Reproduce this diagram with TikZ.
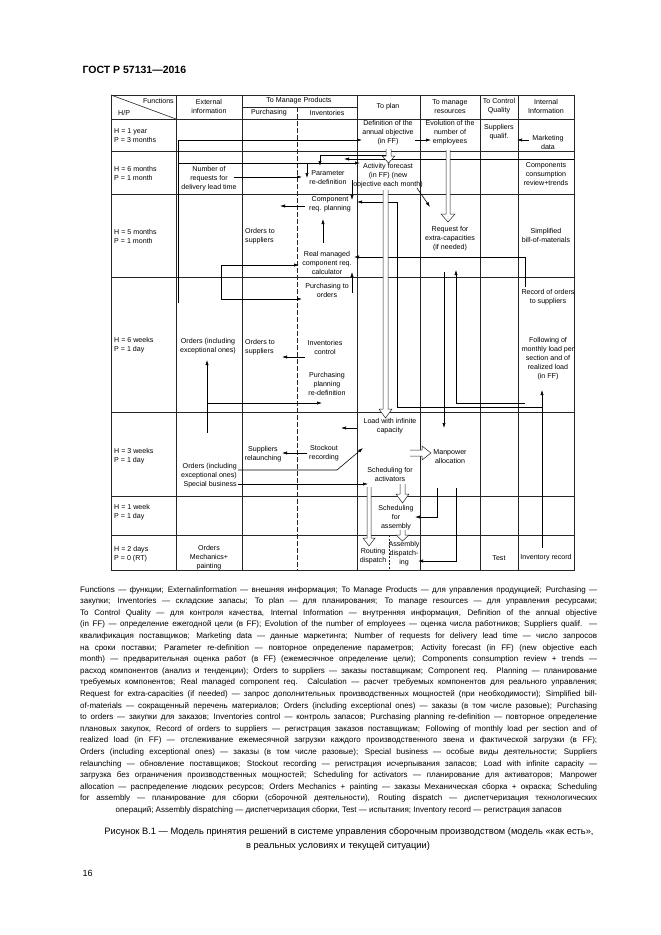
\documentclass[tikz,border=0pt]{standalone}
\usepackage{fontspec}
\setmainfont{Liberation Sans}
\usepackage{graphicx}
\usetikzlibrary{arrows.meta}
\newsavebox\capbox
\newcommand\capline[1]{\sbox\capbox{#1}\ifdim\wd\capbox<517pt\makebox[517pt][s]{#1}\else\pgfmathsetmacro\capratio{517/\the\wd\capbox}\scalebox{\capratio}[1]{#1}\fi}
% hollow arrow downward: x, y start, y head base, y tip, shaft half width, head half width
\newcommand\hdown[6]{\draw[hollow] (#1-#5,#2) -- (#1-#5,#3) -- (#1-#6,#3) -- (#1,#4) -- (#1+#6,#3) -- (#1+#5,#3) -- (#1+#5,#2);}
\begin{document}
\begin{tikzpicture}[x=1pt,y=-1pt,
  tbl/.style={line width=0.6pt, draw=black!85},
  txt/.style={font=\fontsize{7.1}{9}\selectfont, align=center, inner sep=0pt},
  conn/.style={line width=0.6pt, -{Latex[length=5pt,width=3.2pt]}},
  hollow/.style={line width=0.5pt, draw=black!85, fill=white},
]
\useasboundingbox (0,0) rectangle (661,935);
\fill[white] (0,0) rectangle (661,935);

\node[anchor=west, font=\bfseries\fontsize{10.5}{12}\selectfont] (gost) at (79,70) {ГОСТ Р 57131—2016};

% ---------- table ----------
\draw[tbl] (111,95) rectangle (574,570);
\foreach \x in {176,242,357,420,480,518} \draw[tbl] (\x,95) -- (\x,570);
\draw[tbl, dash pattern=on 5pt off 2pt] (297,107) -- (297,570);
\draw[tbl] (242,107) -- (357,107);
\foreach \y in {119,151.5,194,277,412,496,535} \draw[tbl] (111,\y) -- (574,\y);
\draw[tbl] (111,95) -- (176,119);
\draw[tbl, dash pattern=on 2pt off 1.5pt] (389,535) -- (389,570);

% header
\node[txt, anchor=east] (fn) at (174,101) {Functions};
\node[txt, anchor=west] (hp) at (118,113) {H/P};
\node[txt] (ext) at (209,106.5) {External\\information};
\node[txt] (tmp) at (299,101) {To Manage Products};
\node[txt] (pur) at (269,113) {Purchasing};
\node[txt] (inv) at (327,113) {Inventories};
\node[txt] (plan) at (388,107) {To plan};
\node[txt] (res) at (450,106.5) {To manage\\resources};
\node[txt] (qual) at (499,106.5) {To Control\\Quality};
\node[txt] (int) at (546,106.5) {Internal\\Information};

% H/P column
\node[txt, align=left, anchor=west] (h1) at (114,136) {H = 1 year\\P = 3 months};
\node[txt, align=left, anchor=west] (h2) at (114,173) {H = 6 months\\P = 1 month};
\node[txt, align=left, anchor=west] (h3) at (114,236) {H = 5 months\\P = 1 month};
\node[txt, align=left, anchor=west] (h4) at (114,345.5) {H = 6 weeks\\P = 1 day};
\node[txt, align=left, anchor=west] (h5) at (114,456.5) {H = 3 weeks\\P = 1 day};
\node[txt, align=left, anchor=west] (h6) at (114,512) {H = 1 week\\P = 1 day};
\node[txt, align=left, anchor=west] (h7) at (114,554) {H = 2 days\\P = 0 (RT)};

% row 1
\node[txt] (def) at (388,133) {Definition of the\\annual objective\\(in FF)};
\node[txt] (evo) at (450,133) {Evolution of the\\number of\\employees};
\node[txt] (sq) at (499,132.5) {Suppliers\\qualif.};
\node[txt] (mkt) at (548,142) {Marketing\\data};

% row 2
\node[txt] (nreq) at (209,179) {Number of\\requests for\\delivery lead time};
\node[txt] (param) at (328,178) {Parameter\\re-definition};
\node[txt] (act) at (388,176) {Activity forecast\\(in FF) (new\\objective each month)};
\node[txt] (comp) at (546,174.5) {Components\\consumption\\review+trends};

% row 3
\node[txt, align=left, anchor=west] (ots1) at (245,236) {Orders to\\suppliers};
\node[txt] (crp) at (330,204) {Component\\req. planning};
\node[txt] (rmc) at (327,263) {Real managed\\component req.\\calculator};
\node[txt] (rec) at (450,239) {Request for\\extra-capacities\\(if needed)};
\node[txt] (sbom) at (546,235) {Simplified\\bill-of-materials};

% row 4
\node[txt] (oie1) at (208,346.5) {Orders (including\\exceptional ones)};
\node[txt, align=left, anchor=west] (ots2) at (245,347) {Orders to\\suppliers};
\node[txt] (pto) at (327,290.5) {Purchasing to\\orders};
\node[txt] (ictl) at (325,347.5) {Inventories\\control};
\node[txt] (ppr) at (327,384) {Purchasing\\planning\\re-definition};
\node[txt] (ros) at (548,297) {Record of orders\\to suppliers};
\node[txt] (fml) at (548,359) {Following of\\monthly load per\\section and of\\realized load\\(in FF)};

% row 5
\node[txt, align=right, anchor=east] (oie2) at (237,476) {Orders (including\\exceptional ones)\\Special business};
\node[txt] (srl) at (263,454.5) {Suppliers\\relaunching};
\node[txt] (sor) at (324,453.5) {Stockout\\recording};
\node[txt] (lic) at (390,426.5) {Load with infinite\\capacity};
\node[txt] (sfa) at (390,474.5) {Scheduling for\\activators};
\node[txt] (mpa) at (450,456.5) {Manpower\\allocation};

% row 6
\node[txt] (sfas) at (396,517.5) {Scheduling\\for\\assembly};

% row 7
\node[txt] (omp) at (209,557.5) {Orders\\Mechanics+\\painting};
\node[txt] (rd) at (373,556.5) {Routing\\dispatch};
\node[txt] (ad) at (404,554) {Assembly\\dispatch-\\ing};
\node[txt] (test) at (499,558) {Test};
\node[txt] (ir) at (546,558) {Inventory record};

% ---------- connectors ----------
\draw[conn] (178,303) -- (178,140) -- (362,140);
\draw[conn] (178,163) -- (360,163);
\draw[conn] (307,163) -- (307,178);
\draw[conn] (387,155) -- (320,155) -- (320,166);
\draw[conn] (574,159) -- (344,159);
\draw[conn] (352,180) -- (352,200);
\draw[conn] (415,140) -- (431,140);
\draw[conn] (529,140) -- (517,140);
\draw[conn] (234,177) -- (302,177);
\draw[conn] (417,188) -- (430,207);
\draw[conn] (542,407) -- (397,407) -- (397,202) -- (357,202);
\draw[conn] (542,548) -- (542,390);
\draw[conn] (525,403) -- (456,403) -- (456,270);
\draw[conn] (444,272) -- (444,428);
\draw[conn] (525,287) -- (525,257) -- (354,257);
\draw[conn] (352,293) -- (352,272);
\draw[conn] (221,265) -- (299,265);
\draw[conn] (221,265) -- (221,299) -- (302,299);
\draw[conn] (305,357) -- (282,357);
\draw[conn] (305,206) -- (280,206);
\draw[conn] (323,243) -- (323,219);
\draw[conn] (207,433) -- (207,360);
\draw[conn] (207,403) -- (322,403);
\draw[conn] (357,428) -- (341,428);
\draw[conn] (307,453) -- (282,453);
\draw[conn] (238,470) -- (337,470) -- (363,448);
\draw[conn] (238,484) -- (368,484);
\draw[conn] (437,488) -- (437,517) -- (415,517);
\draw[conn] (456,488) -- (456,561) -- (418,561);

% hollow arrows
\hdown{388.5}{149}{156}{163}{2.5}{6.5}
\hdown{448}{150}{214}{222}{2}{7}
\hdown{385.5}{190}{409}{418}{2.5}{6.5}
\hdown{402.5}{484}{494}{503}{2.5}{6.5}
\hdown{369}{487}{538}{546}{2}{6}
\hdown{402.5}{530}{535}{541}{2.5}{6.5}
\draw[hollow] (410,450) -- (422,450) -- (422,446) -- (431,453) -- (422,460) -- (422,456) -- (410,456);

% ---------- legend ----------
\node[anchor=north west, inner sep=0pt, align=left, font=\fontsize{8}{11.6}\selectfont] (legend) at (80,586) {%
\capline{Functions — функции; Externalinformation — внешняя информация; To Manage Products — для управления продукцией; Purchasing —}\\
\capline{закупки; Inventories — складские запасы; To plan — для планирования; To manage resources — для управления ресурсами;}\\
\capline{To Control Quality — для контроля качества, Internal Information — внутренняя информация, Definition of the annual objective}\\
\capline{(in FF) — определение ежегодной цели (в FF); Evolution of the number of employees — оценка числа работников; Suppliers qualif. —}\\
\capline{квалификация поставщиков; Marketing data — данные маркетинга; Number of requests for delivery lead time — число запросов}\\
\capline{на сроки поставки; Parameter re-definition — повторное определение параметров; Activity forecast (in FF) (new objective each}\\
\capline{month) — предварительная оценка работ (в FF) (ежемесячное определение цели); Components consumption review + trends —}\\
\capline{расход компонентов (анализ и тенденции); Orders to suppliers — заказы поставщикам; Component req. Planning — планирование}\\
\capline{требуемых компонентов; Real managed component req. Calculation — расчет требуемых компонентов для реального управления;}\\
\capline{Request for extra-capacities (if needed) — запрос дополнительных производственных мощностей (при необходимости); Simplified bill-}\\
\capline{of-materials — сокращенный перечень материалов; Orders (including exceptional ones) — заказы (в том числе разовые); Purchasing}\\
\capline{to orders — закупки для заказов; Inventories control — контроль запасов; Purchasing planning re-definition — повторное определение}\\
\capline{плановых закупок, Record of orders to suppliers — регистрация заказов поставщикам; Following of monthly load per section and of}\\
\capline{realized load (in FF) — отслеживание ежемесячной загрузки каждого производственного звена и фактической загрузки (в FF);}\\
\capline{Orders (including exceptional ones) — заказы (в том числе разовые); Special business — особые виды деятельности; Suppliers}\\
\capline{relaunching — обновление поставщиков; Stockout recording — регистрация исчерпывания запасов; Load with infinite capacity —}\\
\capline{загрузка без ограничения производственных мощностей; Scheduling for activators — планирование для активаторов; Manpower}\\
\capline{allocation — распределение людских ресурсов; Orders Mechanics + painting — заказы Механическая сборка + окраска; Scheduling}\\
\capline{for assembly — планирование для сборки (сборочной деятельности), Routing dispatch — диспетчеризация технологических}\\
\makebox[517pt][c]{операций; Assembly dispatching — диспетчеризация сборки, Test — испытания; Inventory record — регистрация запасов}};

\node[font=\fontsize{9.3}{13}\selectfont] (cap1) at (349,832) {Рисунок В.1 — Модель принятия решений в системе управления сборочным производством (модель «как есть»,};
\node[font=\fontsize{9.3}{13}\selectfont] (cap2) at (338,846) {в реальных условиях и текущей ситуации)};
\node[anchor=west, font=\fontsize{9}{10}\selectfont] (pg) at (79,873) {16};
\end{tikzpicture}
\end{document}
